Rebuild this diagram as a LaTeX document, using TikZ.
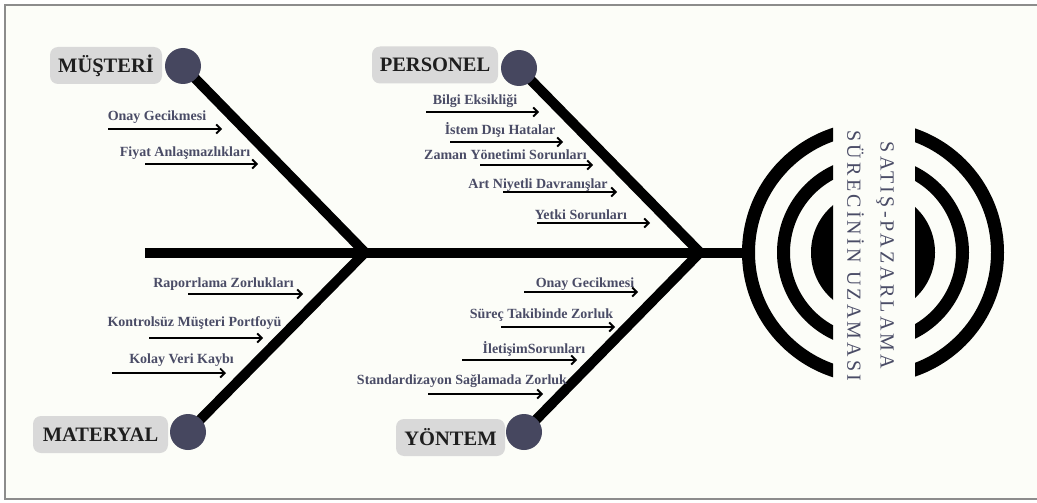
\documentclass[tikz,border=0pt]{standalone}
\usepackage{fontspec}
\setmainfont{Liberation Serif}
\newfontfamily\titlefont[LetterSpace=16]{Liberation Serif}
\usetikzlibrary{arrows.meta}
\definecolor{bgc}{HTML}{FCFDF8}
\definecolor{framec}{HTML}{8C8C8C}
\definecolor{slate}{HTML}{4A4C66}
\definecolor{dotc}{HTML}{46475F}
\definecolor{boxc}{HTML}{D9D9D9}
\definecolor{labc}{HTML}{1E1E1E}
\begin{document}
\begin{tikzpicture}[x=1pt,y=-1pt,
 bone/.style={line width=10pt, line join=miter},
 dot/.style={circle, fill=dotc, minimum size=36pt, inner sep=0pt},
 catbox/.style={fill=boxc, rounded corners=8pt, text=labc, font=\fontsize{20.5}{24}\selectfont\bfseries, inner sep=0pt, minimum height=37pt},
 cause/.style={text=slate, font=\fontsize{14}{16}\selectfont\bfseries, anchor=base, inner sep=0pt},
 carrow/.style={line width=1.8pt, -{Straight Barb[length=4.5pt,width=9pt]}},
 titletext/.style={text=slate, font=\titlefont\fontsize{20}{24}\selectfont, rotate=-90, inner sep=0pt},
 ring/.style={line width=13pt}
]
\useasboundingbox (0,0) rectangle (1037,503);
\fill[white] (0,0) rectangle (1037,503);
\fill[bgc] (5,5) rectangle (1037,499);
\draw[framec, line width=1.6pt] (1040,5) -- (5,5) -- (5,499) -- (1040,499);

% rings
\coordinate (rc) at (873,252.5);
\begin{scope}
\clip (700,100) rectangle (833,410);
\draw[ring] (rc) circle (124.5);
\draw[ring] (rc) circle (89.5);
\fill (rc) circle (62);
\end{scope}
\begin{scope}
\clip (915,100) rectangle (1030,410);
\draw[ring] (rc) circle (124.5);
\draw[ring] (rc) circle (89.5);
\fill (rc) circle (62);
\end{scope}

% spine
\coordinate (sp) at (145,252.5);
\coordinate (se) at (748,252.5);
\draw[line width=10pt] (sp) -- (se);

% bones
\coordinate (pM) at (183,66);
\coordinate (pMa) at (188,432);
\coordinate (pP) at (519,68);
\coordinate (pY) at (524,432);
\coordinate (j1) at (365,252.5);
\coordinate (j2) at (700,252.5);
\draw[bone] (pM) -- (j1) -- (pMa);
\draw[bone] (pP) -- (j2) -- (pY);
\node[dot] (cM) at (pM) {};
\node[dot] (cMa) at (pMa) {};
\node[dot] (cP) at (pP) {};
\node[dot] (cY) at (pY) {};

% category labels
\node[catbox, minimum width=112pt] (lM) at (106,65.5) {MÜŞTERİ};
\node[catbox, minimum width=126pt] (lP) at (435,65) {PERSONEL};
\node[catbox, minimum width=135pt] (lMa) at (100.5,434.5) {MATERYAL};
\node[catbox, minimum width=109pt] (lY) at (450.5,437.5) {YÖNTEM};

% causes - Musteri
\node[cause] (c1) at (157,121) {Onay Gecikmesi};
\coordinate (a1s) at (108,129); \coordinate (a1e) at (222,129);
\draw[carrow] (a1s) -- (a1e);
\node[cause] (c2) at (185,157) {Fiyat Anlaşmazlıkları};
\coordinate (a2s) at (145,164); \coordinate (a2e) at (258,164);
\draw[carrow] (a2s) -- (a2e);

% Materyal
\node[cause] (c3) at (223.5,287) {Raporrlama Zorlukları};
\coordinate (a3s) at (188,294); \coordinate (a3e) at (303,294);
\draw[carrow] (a3s) -- (a3e);
\node[cause] (c4) at (194.5,326) {Kontrolsüz Müşteri Portfoyü};
\coordinate (a4s) at (149,338); \coordinate (a4e) at (263,338);
\draw[carrow] (a4s) -- (a4e);
\node[cause] (c5) at (181.5,363) {Kolay Veri Kaybı};
\coordinate (a5s) at (112,373); \coordinate (a5e) at (226,373);
\draw[carrow] (a5s) -- (a5e);

% Personel
\node[cause] (c6) at (475,104) {Bilgi Eksikliği};
\coordinate (a6s) at (426,112); \coordinate (a6e) at (539,112);
\draw[carrow] (a6s) -- (a6e);
\node[cause] (c7) at (500,135) {İstem Dışı Hatalar};
\coordinate (a7s) at (450,142); \coordinate (a7e) at (563,142);
\draw[carrow] (a7s) -- (a7e);
\node[cause] (c8) at (505.5,159) {Zaman Yönetimi Sorunları};
\coordinate (a8s) at (480,165); \coordinate (a8e) at (593,165);
\draw[carrow] (a8s) -- (a8e);
\node[cause] (c9) at (538,188) {Art Niyetli Davranışlar};
\coordinate (a9s) at (503,192); \coordinate (a9e) at (617,192);
\draw[carrow] (a9s) -- (a9e);
\node[cause] (c10) at (581,219) {Yetki Sorunları};
\coordinate (a10s) at (537,223); \coordinate (a10e) at (650,223);
\draw[carrow] (a10s) -- (a10e);

% Yontem
\node[cause] (c11) at (585,287) {Onay Gecikmesi};
\coordinate (a11s) at (524,292); \coordinate (a11e) at (638,292);
\draw[carrow] (a11s) -- (a11e);
\node[cause] (c12) at (541.5,318) {Süreç Takibinde Zorluk};
\coordinate (a12s) at (501,327); \coordinate (a12e) at (615,327);
\draw[carrow] (a12s) -- (a12e);
\node[cause] (c13) at (534,353) {İletişimSorunları};
\coordinate (a13s) at (462,360); \coordinate (a13e) at (577,360);
\draw[carrow] (a13s) -- (a13e);
\node[cause] (c14) at (462,384) {Standardizayon Sağlamada Zorluk};
\coordinate (a14s) at (428,394); \coordinate (a14e) at (543,394);
\draw[carrow] (a14s) -- (a14e);

% title
\node[titletext] (tt1) at (885,255.5) {SATIŞ-PAZARLAMA};
\node[titletext] (tt2) at (855.5,256) {SÜRECİNİN UZAMASI};
\end{tikzpicture}
\end{document}
